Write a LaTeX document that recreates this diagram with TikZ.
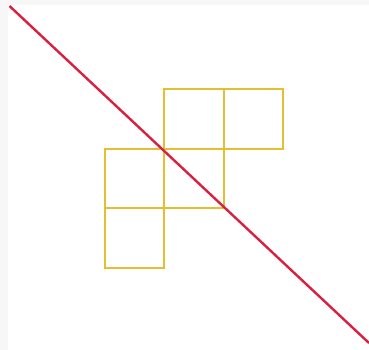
\documentclass[tikz,border=0pt]{standalone}
\usepackage{xcolor}
\definecolor{pagegray}{RGB}{247,247,247}
\definecolor{cellgold}{RGB}{230,190,50}
\definecolor{diagred}{RGB}{218,32,64}

\begin{document}
\begin{tikzpicture}[x=1pt, y=-1pt,
  cell/.style={draw=cellgold, line width=2pt},
  diag/.style={draw=diagred, line width=2.4pt}]
  \fill[pagegray] (0,0) rectangle (369,350);
  \fill[white] (8,5) rectangle (369,350);
  \useasboundingbox (0,0) rectangle (369,350);
  % the five squares
  \foreach \c/\r in {1/0, 2/0, 0/1, 1/1, 0/2}
    \draw[cell] ({104.5+59.5*\c},{89+59.5*\r}) rectangle ++(59.5,59.5);
  % diagonal
  \coordinate (top) at (9.5,6);
  \coordinate (bot) at (369,343);
  \draw[diag] (top) -- (bot);
\end{tikzpicture}
\end{document}
